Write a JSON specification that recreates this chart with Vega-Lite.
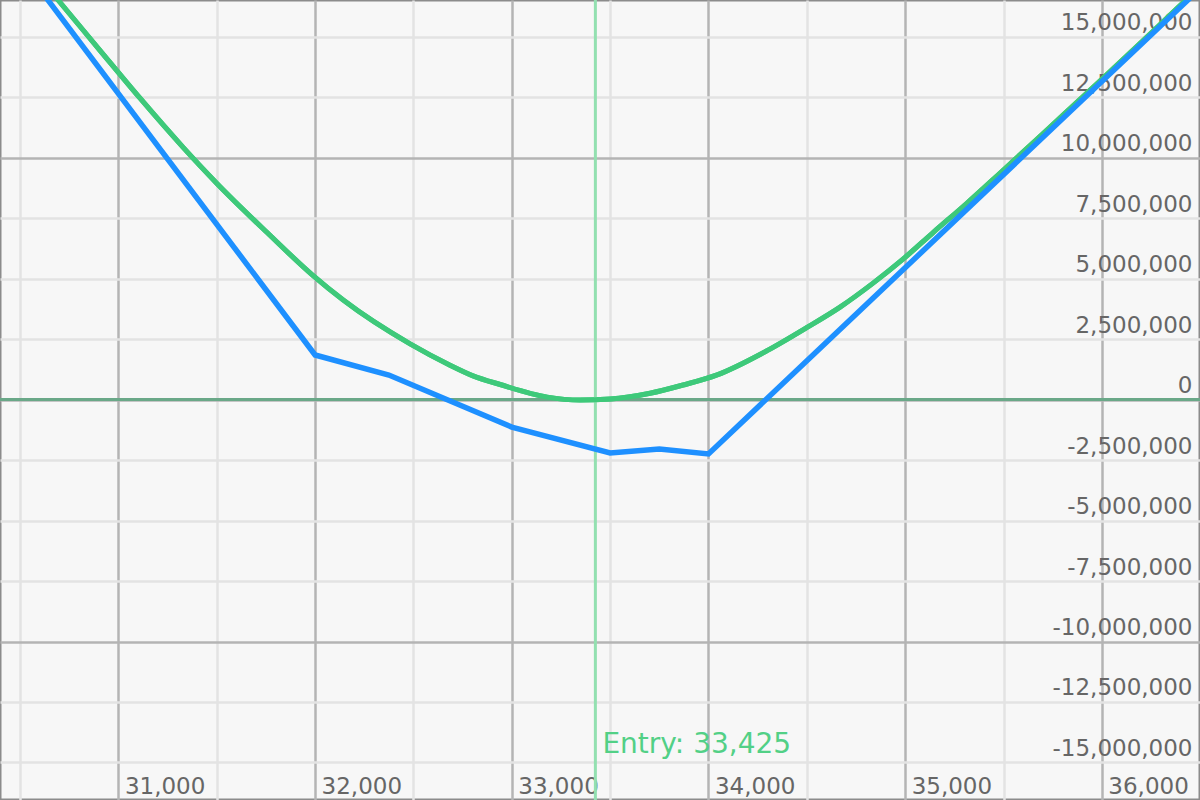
{
  "$schema": "https://vega.github.io/schema/vega-lite/v6.json",
  "width": 1200,
  "height": 800,
  "padding": 0,
  "autosize": {"type": "none"},
  "background": "#f7f7f7",
  "config": {
    "view": {"stroke": "#8c8c8c", "strokeWidth": 3, "fill": "#f7f7f7"},
    "font": "DejaVu Sans"
  },
  "datasets": {
    "expiry": [
      {"price": 30400, "pnl": 19120000},
      {"price": 32000, "pnl": 1840000},
      {"price": 32375, "pnl": 1010000},
      {"price": 33000, "pnl": -1140000},
      {"price": 33500, "pnl": -2210000},
      {"price": 33750, "pnl": -2050000},
      {"price": 34000, "pnl": -2250000},
      {"price": 36500, "pnl": 16990000}
    ],
    "today": [
      {"price": 30400, "pnl": 19300000},
      {"price": 30693, "pnl": 16510000},
      {"price": 30907, "pnl": 14420000},
      {"price": 31110, "pnl": 12450000},
      {"price": 31329, "pnl": 10420000},
      {"price": 31502, "pnl": 8920000},
      {"price": 31756, "pnl": 6900000},
      {"price": 31990, "pnl": 5120000},
      {"price": 32143, "pnl": 4110000},
      {"price": 32483, "pnl": 2300000},
      {"price": 32686, "pnl": 1420000},
      {"price": 32803, "pnl": 980000},
      {"price": 32941, "pnl": 620000},
      {"price": 33180, "pnl": 100000},
      {"price": 33347, "pnl": -20000},
      {"price": 33500, "pnl": 20000},
      {"price": 33703, "pnl": 260000},
      {"price": 33871, "pnl": 600000},
      {"price": 34044, "pnl": 1020000},
      {"price": 34298, "pnl": 2020000},
      {"price": 34501, "pnl": 2980000},
      {"price": 34669, "pnl": 3820000},
      {"price": 34837, "pnl": 4810000},
      {"price": 34989, "pnl": 5800000},
      {"price": 35142, "pnl": 6900000},
      {"price": 35315, "pnl": 8120000},
      {"price": 35483, "pnl": 9360000},
      {"price": 35737, "pnl": 11260000},
      {"price": 36001, "pnl": 13240000},
      {"price": 36245, "pnl": 15100000},
      {"price": 36449, "pnl": 16670000},
      {"price": 36500, "pnl": 17050000}
    ],
    "entry": [
      {"price": 33425, "label": "Entry: 33,425"}
    ],
    "zero": [
      {"pnl": 0}
    ]
  },
  "layer": [
    {
      "data": {"name": "today"},
      "mark": {"type": "line", "color": "#3ec97a", "strokeWidth": 5, "clip": true, "interpolate": "monotone"},
      "encoding": {
        "x": {
          "field": "price", "type": "quantitative", "title": null,
          "scale": {"domain": [30398, 36499], "nice": false, "zero": false},
          "axis": {
            "orient": "bottom",
            "values": [30500, 31000, 31500, 32000, 32500, 33000, 33500, 34000, 34500, 35000, 35500, 36000],
            "labelExpr": "datum.value % 1000 === 0 ? format(datum.value, ',d') : ''",
            "domain": false, "ticks": false, "tickSize": 0,
            "grid": true, "gridWidth": 2.5,
            "gridColor": {"condition": {"test": "datum.value % 1000 === 0", "value": "#b4b4b4"}, "value": "#e3e3e3"},
            "labelAlign": "left", "labelBaseline": "alphabetic", "labelOffset": 6, "labelPadding": -7,
            "labelFontSize": 23, "labelColor": "#666666", "labelFont": "DejaVu Sans",
            "labelFlush": false, "labelOverlap": false, "labelBound": false
          }
        },
        "y": {
          "field": "pnl", "type": "quantitative", "title": null,
          "scale": {"domain": [-16550000, 16510000], "nice": false, "zero": false},
          "axis": {
            "orient": "right",
            "values": [-15000000, -12500000, -10000000, -7500000, -5000000, -2500000, 0, 2500000, 5000000, 7500000, 10000000, 12500000, 15000000],
            "labelExpr": "replace(format(datum.value, ',d'), '\u2212', '-')",
            "domain": false, "ticks": false, "tickSize": 0,
            "grid": true, "gridWidth": 2.5,
            "gridColor": {"condition": {"test": "datum.value % 10000000 === 0", "value": "#b4b4b4"}, "value": "#e3e3e3"},
            "labelAlign": "right", "labelBaseline": "alphabetic", "labelOffset": -7, "labelPadding": -8,
            "labelFontSize": 23, "labelColor": "#666666", "labelFont": "DejaVu Sans",
            "labelFlush": false, "labelOverlap": false, "labelBound": false
          }
        }
      }
    },
    {
      "data": {"name": "zero"},
      "mark": {"type": "rule", "color": "#6aa888", "strokeWidth": 3},
      "encoding": {"y": {"field": "pnl", "type": "quantitative", "title": null}}
    },
    {
      "data": {"name": "entry"},
      "mark": {"type": "rule", "color": "#93e0b0", "strokeWidth": 3},
      "encoding": {"x": {"field": "price", "type": "quantitative", "title": null}}
    },
    {
      "data": {"name": "today"},
      "mark": {"type": "line", "color": "#3ec97a", "strokeWidth": 5, "clip": true, "interpolate": "monotone"},
      "encoding": {
        "x": {"field": "price", "type": "quantitative", "title": null},
        "y": {"field": "pnl", "type": "quantitative", "title": null}
      }
    },
    {
      "data": {"name": "expiry"},
      "mark": {"type": "line", "color": "#1e90ff", "strokeWidth": 5.5, "clip": true},
      "encoding": {
        "x": {"field": "price", "type": "quantitative", "title": null},
        "y": {"field": "pnl", "type": "quantitative", "title": null}
      }
    },
    {
      "data": {"name": "entry"},
      "mark": {"type": "text", "align": "left", "baseline": "alphabetic", "dx": 7, "fontSize": 28, "color": "#52d086", "font": "DejaVu Sans"},
      "encoding": {
        "x": {"field": "price", "type": "quantitative", "title": null},
        "y": {"datum": -14610000, "type": "quantitative", "title": null},
        "text": {"field": "label"}
      }
    }
  ]
}
